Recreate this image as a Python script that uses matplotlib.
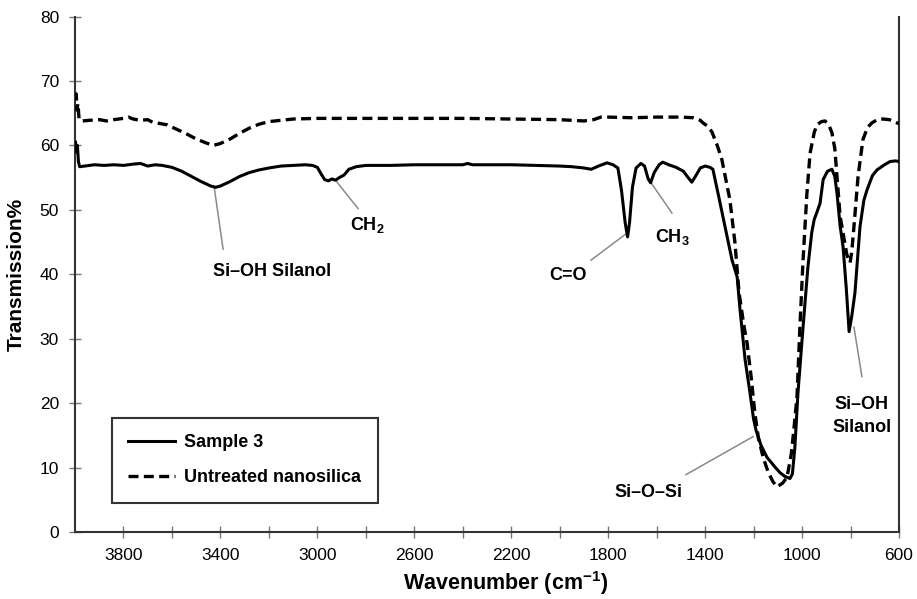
import numpy as np
import matplotlib
matplotlib.use("Agg")
import matplotlib.pyplot as plt
from matplotlib.ticker import MultipleLocator, FixedLocator

plt.rcParams['font.family'] = ['Liberation Sans', 'DejaVu Sans']
plt.rcParams['mathtext.fontset'] = 'custom'
plt.rcParams['mathtext.rm'] = 'Liberation Sans'
plt.rcParams['mathtext.bf'] = 'Liberation Sans:bold'

# Sample 3 (solid) - wavenumber / transmission
sample_wn = [3998, 3994, 3990, 3986, 3981, 3960, 3920, 3880, 3840, 3800, 3760, 3730, 3700,
             3670, 3640, 3600, 3560, 3520, 3480, 3440, 3420, 3400, 3360, 3320, 3280, 3240,
             3200, 3150, 3100, 3050, 3020, 3000, 2985, 2970, 2955, 2940, 2925, 2910, 2890,
             2870, 2840, 2800, 2700, 2600, 2500, 2400, 2380, 2360, 2200, 2100, 2000, 1950,
             1900, 1870, 1840, 1805, 1780, 1760, 1745, 1730, 1720, 1712, 1700, 1685, 1665,
             1650, 1635, 1625, 1610, 1590, 1575, 1550, 1520, 1490, 1470, 1455, 1440, 1420,
             1400, 1380, 1368, 1355, 1347, 1318, 1289, 1268, 1256, 1235, 1215, 1200, 1190,
             1170, 1145, 1110, 1091, 1070, 1050, 1040, 1030, 1017, 996, 976, 960, 950, 940,
             926, 913, 895, 877, 865, 856, 843, 831, 818, 806, 795, 782, 770, 761, 745, 732,
             710, 691, 660, 637, 615, 600]
sample_tr = [60.5, 59.0, 60.0, 57.5, 56.7, 56.8, 57.0, 56.9, 57.0, 56.9, 57.1, 57.2, 56.8,
             57.0, 56.9, 56.6, 56.0, 55.2, 54.4, 53.7, 53.5, 53.7, 54.4, 55.2, 55.8, 56.2,
             56.5, 56.8, 56.9, 57.0, 56.9, 56.6, 55.6, 54.7, 54.5, 54.8, 54.6, 55.0, 55.4,
             56.3, 56.7, 56.9, 56.9, 57.0, 57.0, 57.0, 57.2, 57.0, 57.0, 56.9, 56.8, 56.7,
             56.5, 56.3, 56.8, 57.3, 57.0, 56.5, 53.0, 48.0, 45.8, 48.0, 53.5, 56.5, 57.2,
             56.8, 54.8, 54.2, 55.8, 57.0, 57.4, 57.0, 56.6, 56.0, 55.0, 54.3, 55.2, 56.5,
             56.8, 56.6, 56.3, 54.0, 52.6, 47.4, 42.2, 39.6, 34.5, 26.7, 21.6, 17.5, 15.8,
             13.5, 11.6, 10.0, 9.2, 8.6, 8.3, 9.0, 13.0, 21.6, 31.8, 41.1, 46.5, 48.5, 49.5,
             51.0, 54.7, 56.0, 56.3, 55.2, 52.6, 47.5, 44.3, 38.0, 31.1, 33.5, 37.1, 43.0, 47.4,
             51.5, 53.1, 55.3, 56.2, 57.0, 57.5, 57.6, 57.5]

# Untreated nanosilica (dashed)
untreated_wn = [3998, 3995, 3992, 3988, 3983, 3970, 3940, 3900, 3870, 3840, 3800, 3780, 3760,
                3730, 3700, 3680, 3650, 3620, 3580, 3540, 3500, 3460, 3430, 3400, 3360, 3320,
                3280, 3240, 3200, 3150, 3100, 3000, 2800, 2600, 2400, 2200, 2000, 1900, 1860,
                1830, 1800, 1700, 1600, 1500, 1450, 1420, 1409, 1390, 1372, 1350, 1331, 1298,
                1277, 1260, 1240, 1227, 1210, 1195, 1180, 1160, 1140, 1120, 1103, 1080, 1062,
                1045, 1035, 1021, 1009, 996, 980, 967, 950, 939, 920, 905, 890, 877, 865, 856,
                843, 831, 815, 802, 795, 786, 769, 749, 730, 712, 690, 666, 640, 620, 609, 600]
untreated_tr = [67.5, 68.0, 65.5, 66.5, 64.0, 63.8, 63.9, 64.0, 63.8, 64.0, 64.2, 64.4, 64.1,
                63.9, 64.0, 63.6, 63.4, 63.2, 62.5, 61.8, 61.0, 60.4, 60.0, 60.3, 61.0, 61.9,
                62.7, 63.3, 63.7, 63.9, 64.1, 64.2, 64.2, 64.2, 64.2, 64.1, 64.0, 63.8, 64.0,
                64.4, 64.4, 64.3, 64.4, 64.4, 64.3, 63.9, 63.5, 63.0, 62.1, 60.0, 57.8, 51.6,
                44.9, 37.1, 32.0, 29.3, 24.0, 18.5, 14.5, 11.5, 9.3, 7.8, 7.0, 7.6, 8.5,
                12.0, 15.5, 21.0, 31.8, 42.2, 52.6, 58.8, 62.0, 63.2, 63.7, 63.8, 63.2, 62.0,
                59.5, 55.2, 49.0, 46.4, 43.0, 41.8, 43.5, 47.4, 55.2, 60.9, 62.8, 63.5, 64.0,
                64.1, 64.0, 63.7, 63.5, 63.4]

# annotations: label, text position, leader line start (on curve), leader line end
ann_labels = ['Si\u2013OH Silanol', r'CH$_\mathbf{2}$', 'C=O', r'CH$_\mathbf{3}$',
              'Si\u2013O\u2013Si', 'Si\u2013OH\nSilanol']
ann_text_xy = [(3187, 40.4), (2795, 47.7), (1966, 39.8), (1537, 45.8), (1632, 6.2), (753, 18.0)]
ann_line_from = [(3426, 53.6), (2919, 54.3), (1722, 46.4), (1623, 54.2), (1202, 14.8), (786, 31.8)]
ann_line_to = [(3389, 43.9), (2832, 50.2), (1871, 42.2), (1537, 49.5), (1479, 8.9), (753, 24.1)]

fig = plt.figure(figsize=(9.17, 5.99), dpi=100)
ax = fig.add_axes([0.0818, 0.1119, 0.8986, 0.8604])

ax.plot(sample_wn, sample_tr, color='black', lw=2.2, label='Sample 3', zorder=3)
ax.plot(untreated_wn, untreated_tr, color='black', lw=2.4, ls=(0, (3.0, 1.6)),
        label='Untreated nanosilica', zorder=3)

for lab, txy, p0, p1 in zip(ann_labels, ann_text_xy, ann_line_from, ann_line_to):
    ax.plot([p0[0], p1[0]], [p0[1], p1[1]], color='#8a8a8a', lw=1.1, zorder=2)
    ax.text(txy[0], txy[1], lab, ha='center', va='center', fontsize=13,
            fontweight='bold', linespacing=1.5)

ax.set_xlim(4000, 600)
ax.set_ylim(0, 80)
ax.xaxis.set_major_locator(FixedLocator(np.arange(3800, 599, -400)))
ax.xaxis.set_minor_locator(FixedLocator(np.arange(3600, 700, -400)))
ax.yaxis.set_major_locator(MultipleLocator(10))

ax.tick_params(axis='both', which='both', direction='inout', length=9, width=1,
               color='#777777', labelsize=12.5)
ax.tick_params(axis='x', pad=7)
ax.tick_params(axis='y', pad=7)

for side in ['left', 'bottom', 'right']:
    ax.spines[side].set_color('#333333')
    ax.spines[side].set_linewidth(1.5)
ax.spines['top'].set_visible(False)

ax.set_xlabel(r'Wavenumber (cm$^{\mathbf{-1}}$)', fontsize=15.5, fontweight='bold', va='center')
ax.xaxis.set_label_coords(0.522, -0.1)
ax.set_ylabel('Transmission%', fontsize=15, fontweight='bold', labelpad=10)

leg = ax.legend(loc='upper left', bbox_to_anchor=(0.045, 0.221), borderaxespad=0,
                fancybox=False, framealpha=1, edgecolor='#333333', handlelength=2.6,
                handletextpad=0.5, labelspacing=1.0, borderpad=0.9,
                prop={'weight': 'bold', 'size': 13})
leg.get_frame().set_linewidth(1.5)

fig.savefig('out.png', dpi=100)
